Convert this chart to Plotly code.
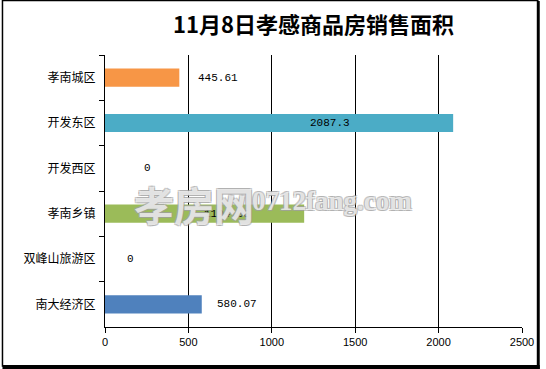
import plotly.graph_objects as go

categories = ["孝南城区", "开发东区", "开发西区", "孝南乡镇", "双峰山旅游区", "南大经济区"]
values = [445.61, 2087.3, 0, 1194.08, 0, 580.07]
bar_colors = ["#F79646", "#4BACC6", "#9BBB59", "#9BBB59", "#4F81BD", "#4F81BD"]
x_ticks = [0, 500, 1000, 1500, 2000, 2500]
title_text = "11月8日孝感商品房销售面积"
watermark_cn = "孝房网"
watermark_en = "0712fang.com"

# label placement (pixel offsets from bar end) - styling only
label_anchor = ["left", "right", "left", "right", "left", "left"]
label_shift = [17, -101, 37, -52, 20, 13]

W, H = 546, 369
ML, MR, MT, MB = 105, 18, 55, 42
PW, PH = W - ML - MR, H - MT - MB

fig = go.Figure()
fig.add_trace(go.Bar(
    x=values, y=categories, orientation="h",
    marker=dict(color=bar_colors, line=dict(width=0)),
    width=0.4, hoverinfo="x+y",
))

annotations = []
for cat, v, anc, sh in zip(categories, values, label_anchor, label_shift):
    annotations.append(dict(
        x=v, y=cat, xref="x", yref="y", text=f"{v:g}", showarrow=False,
        xanchor=anc, yanchor="middle", xshift=sh,
        font=dict(family="Liberation Mono, DejaVu Sans Mono, monospace", size=11, color="black"),
    ))

# watermark
wm_shadow = ("-1px -1px 0 rgba(160,160,160,0.8), 1px -1px 0 rgba(160,160,160,0.8), "
             "-1px 1px 0 rgba(160,160,160,0.8), 1px 1px 0 rgba(160,160,160,0.8)")
annotations.append(dict(
    x=(195 - ML) / PW, y=1 - (204 - MT) / PH, xref="paper", yref="paper",
    text="<b>" + watermark_cn + "</b>", showarrow=False, xanchor="center", yanchor="middle",
    font=dict(family="Noto Sans CJK SC", size=40, color="rgba(255,255,255,0.7)", shadow=wm_shadow),
))
annotations.append(dict(
    x=(335 - ML) / PW, y=1 - (201 - MT) / PH, xref="paper", yref="paper",
    text="<b>" + watermark_en + "</b>", showarrow=False, xanchor="center", yanchor="middle",
    font=dict(family="Liberation Serif", size=27, color="rgba(255,255,255,0.7)", shadow=wm_shadow),
))

def px_x(p):
    return (p - ML) / PW

def px_y(p):
    return (MT + PH - p) / PH

shapes = [
    dict(type="rect", xref="paper", yref="paper",
         x0=px_x(1), x1=px_x(544), y0=px_y(366), y1=px_y(0.5),
         line=dict(color="black", width=1.5), fillcolor="rgba(0,0,0,0)", layer="above"),
    dict(type="rect", xref="paper", yref="paper",
         x0=px_x(543), x1=px_x(546), y0=px_y(369), y1=px_y(1),
         line=dict(width=0), fillcolor="black", layer="above"),
    dict(type="rect", xref="paper", yref="paper",
         x0=px_x(1), x1=px_x(546), y0=px_y(369), y1=px_y(365),
         line=dict(width=0), fillcolor="black", layer="above"),
]

fig.update_layout(
    width=W, height=H,
    margin=dict(l=ML, r=MR, t=MT, b=MB, pad=0),
    paper_bgcolor="white", plot_bgcolor="white",
    showlegend=False,
    title=dict(text="<b>" + title_text + "</b>", x=0.5, xref="paper", xanchor="center",
               y=1 - 25 / H, yref="container", yanchor="middle",
               font=dict(family="Noto Sans CJK SC", size=22, color="black")),
    annotations=annotations,
    shapes=shapes,
    xaxis=dict(range=[0, 2500], tickvals=x_ticks, ticktext=[str(t) for t in x_ticks],
               showgrid=True, gridcolor="black", gridwidth=1,
               showline=True, linecolor="black", linewidth=1,
               ticks="outside", ticklen=5, tickcolor="black", zeroline=False,
               tickfont=dict(family="Liberation Sans", size=11, color="black")),
    yaxis=dict(categoryorder="array", categoryarray=categories, autorange="reversed",
               showgrid=False, showline=True, linecolor="black", linewidth=1,
               ticks="outside", ticklen=5, tickcolor="black", tickson="boundaries",
               ticklabelstandoff=6,
               tickfont=dict(family="Noto Sans CJK SC", size=12, color="black")),
)

fig.write_html(
    "out.html",
    config={"displayModeBar": False},
    post_script="document.body.style.margin='0';document.body.style.overflow='hidden';",
)
